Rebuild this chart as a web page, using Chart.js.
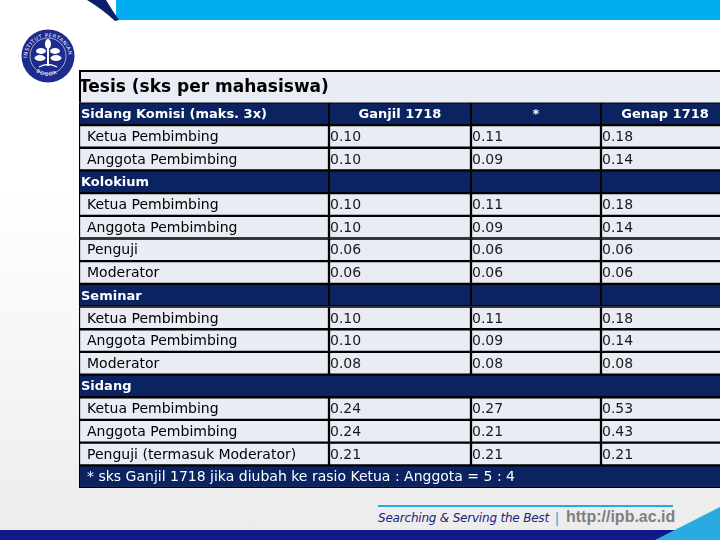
<!DOCTYPE html>
<html>
<head>
<meta charset="utf-8">
<script src="https://cdn.jsdelivr.net/npm/chart.js@4/dist/chart.umd.min.js"></script>
<style>
  html, body { margin: 0; padding: 0; }
  body {
    width: 720px; height: 540px; position: relative; overflow: hidden;
    background: linear-gradient(to bottom, #ffffff 0%, #ffffff 35%, #ececec 100%);
    font-family: 'DejaVu Sans', sans-serif;
  }
  #deco { position: absolute; left: 0; top: 0; }
  #table-wrap { position: absolute; left: 79px; top: 70px; width: 641px; height: 418px; }
  .foot-text { position: absolute; top: 511px; left: 378px; font: italic 12px 'DejaVu Sans', sans-serif; color: #1a237e; letter-spacing: -0.2px; }
  .foot-bar { position: absolute; top: 509px; left: 555px; font: 15px 'Liberation Sans', sans-serif; color: #29a9e0; }
  .foot-url { position: absolute; top: 508px; left: 566px; font: bold 16px 'Liberation Sans', sans-serif; color: #7f7f7f; }
</style>
</head>
<body>
<svg id="deco" width="720" height="540" xmlns="http://www.w3.org/2000/svg">
  <rect x="116" y="0" width="604" height="20" fill="#00aeef"/>
  <path d="M87,0 L106,0 Q112,10 119,20 L115,21 Q102,9 87,0 Z" fill="#0b1f6b"/>
  <line x1="378" y1="506" x2="673" y2="506" stroke="#29a9e0" stroke-width="2"/>
  <rect x="0" y="530" width="690" height="10" fill="#10188a"/>
  <polygon points="655,540 720,507 720,540" fill="#29abe2"/>
  <g>
    <circle cx="48" cy="56" r="26.5" fill="#1d2b8c"/>
    <circle cx="48" cy="56" r="18" fill="none" stroke="#ffffff" stroke-width="0.6"/>
    <defs>
      <path id="ringTop" d="M27,58 A21,21 0 0 1 69,58"/>
      <path id="ringBot" d="M36,72 A21,21 0 0 0 60,72"/>
    </defs>
    <text font-size="5" fill="#ffffff" font-family="DejaVu Sans" letter-spacing="0.6"><textPath href="#ringTop">INSTITUT PERTANIAN</textPath></text>
    <text font-size="5" fill="#ffffff" font-family="DejaVu Sans" letter-spacing="0.8"><textPath href="#ringBot">BOGOR</textPath></text>
    <ellipse cx="48" cy="44" rx="3" ry="5" fill="#ffffff"/>
    <ellipse cx="41" cy="51" rx="5" ry="3" fill="#ffffff"/>
    <ellipse cx="55" cy="51" rx="5" ry="3" fill="#ffffff"/>
    <ellipse cx="40" cy="58" rx="5.5" ry="3" fill="#ffffff"/>
    <ellipse cx="56" cy="58" rx="5.5" ry="3" fill="#ffffff"/>
    <rect x="47" y="46" width="2" height="20" fill="#ffffff"/>
    <path d="M39,67 Q48,62 57,67" stroke="#ffffff" stroke-width="1.4" fill="none"/>
  </g>
</svg>

<div id="table-wrap"><canvas id="chart-table" width="641" height="418"></canvas></div>

<div class="foot-text">Searching &amp; Serving the Best</div>
<div class="foot-bar">|</div>
<div class="foot-url">http://ipb.ac.id</div>

<script>
// Tesis sks table — rows drawn as floating bars, text placed with the scales

const tableTitle = 'Tesis (sks per mahasiswa)';
const columnTitles = ['Ganjil 1718', '*', 'Genap 1718'];

const rowLabels = [
  'Sidang Komisi (maks. 3x)',
  'Ketua Pembimbing', 'Anggota Pembimbing',
  'Kolokium',
  'Ketua Pembimbing', 'Anggota Pembimbing', 'Penguji', 'Moderator',
  'Seminar',
  'Ketua Pembimbing', 'Anggota Pembimbing', 'Moderator',
  'Sidang',
  'Ketua Pembimbing', 'Anggota Pembimbing', 'Penguji (termasuk Moderator)',
  '* sks Ganjil 1718 jika diubah ke rasio Ketua : Anggota = 5 : 4',
];
const rowKinds = [
  'head',
  'item', 'item',
  'group',
  'item', 'item', 'item', 'item',
  'group',
  'item', 'item', 'item',
  'span',
  'item', 'item', 'item',
  'note',
];

const ganjil1718 = [null, 0.10, 0.10, null, 0.10, 0.10, 0.06, 0.06, null, 0.10, 0.10, 0.08, null, 0.24, 0.24, 0.21, null];
const ganjilRasio = [null, 0.11, 0.09, null, 0.11, 0.09, 0.06, 0.06, null, 0.11, 0.09, 0.08, null, 0.27, 0.21, 0.21, null];
const genap1718 = [null, 0.18, 0.14, null, 0.18, 0.14, 0.06, 0.06, null, 0.18, 0.14, 0.08, null, 0.53, 0.43, 0.21, null];

// layout (x-scale units = table pixels)
const COL_EDGES = [0, 250, 392, 522, 650];
const TABLE_W = 641;
const DARK = '#0b2361';
const LIGHT = '#e9ecf5';
const FONT = "'DejaVu Sans', sans-serif";

const isDark = (i) => rowKinds[i] !== 'item';
const isWide = (i) => rowKinds[i] === 'span' || rowKinds[i] === 'note';

function cellRanges(col) {
  return rowKinds.map((k, i) => {
    if (isWide(i)) return col === 0 ? [COL_EDGES[0], COL_EDGES[4]] : null;
    return [COL_EDGES[col], COL_EDGES[col + 1]];
  });
}

function cellDataset(col) {
  return {
    data: cellRanges(col),
    grouped: false,
    backgroundColor: (c) => (isDark(c.dataIndex) ? DARK : LIGHT),
    borderColor: '#000',
    borderWidth: 1.5,
    borderSkipped: false,
    categoryPercentage: 1,
    barPercentage: 1,
  };
}

const titleBox = {
  id: 'titleBox',
  beforeDraw(chart) {
    const { ctx, chartArea } = chart;
    ctx.save();
    ctx.fillStyle = LIGHT;
    ctx.fillRect(0, 0, chart.width, chartArea.top);
    ctx.fillStyle = '#000';
    ctx.fillRect(0, 0, chart.width, 2);
    ctx.fillRect(0, 0, 2, chartArea.top);
    ctx.restore();
  },
};

const cellText = {
  id: 'cellText',
  afterDatasetsDraw(chart) {
    const { ctx, scales: { x, y } } = chart;
    const colX = (c) => x.getPixelForValue(COL_EDGES[c]);
    const colMid = (c) => (colX(c) + colX(c + 1)) / 2;
    ctx.save();
    ctx.textBaseline = 'middle';
    rowLabels.forEach((label, i) => {
      const py = y.getPixelForValue(i) + 1;
      const kind = rowKinds[i];
      ctx.textAlign = 'left';
      if (kind === 'head' || kind === 'group' || kind === 'span') {
        ctx.fillStyle = '#fff';
        ctx.font = `bold 13px ${FONT}`;
        ctx.fillText(label, colX(0) + 2, py);
      } else if (kind === 'note') {
        ctx.fillStyle = '#fff';
        ctx.font = `14px ${FONT}`;
        ctx.fillText(label, colX(0) + 8, py);
      } else {
        ctx.fillStyle = '#000';
        ctx.font = `14px ${FONT}`;
        ctx.fillText(label, colX(0) + 8, py);
      }
      if (kind === 'head') {
        ctx.textAlign = 'center';
        columnTitles.forEach((t, c) => ctx.fillText(t, colMid(c + 1), py));
      }
      if (kind === 'item') {
        ctx.fillStyle = '#1a1a1a';
        ctx.font = `14px ${FONT}`;
        [ganjil1718, ganjilRasio, genap1718].forEach((vals, c) => {
          if (vals[i] != null) ctx.fillText(vals[i].toFixed(2), colX(c + 1) + 1, py);
        });
      }
    });
    ctx.restore();
  },
};

new Chart(document.getElementById('chart-table').getContext('2d'), {
  type: 'bar',
  data: {
    labels: rowLabels.map((_, i) => i),
    datasets: [0, 1, 2, 3].map(cellDataset),
  },
  options: {
    indexAxis: 'y',
    responsive: false,
    devicePixelRatio: 1,
    animation: false,
    layout: { padding: 0 },
    scales: {
      x: { type: 'linear', min: 0, max: TABLE_W, display: false },
      y: { type: 'category', display: false },
    },
    plugins: {
      legend: { display: false },
      tooltip: { enabled: false },
      title: {
        display: true,
        text: tableTitle,
        align: 'start',
        color: '#000',
        font: { family: FONT, size: 17, weight: 'bold' },
        padding: { top: 7, bottom: 5 },
      },
    },
  },
  plugins: [titleBox, cellText],
});
</script>
</body>
</html>
